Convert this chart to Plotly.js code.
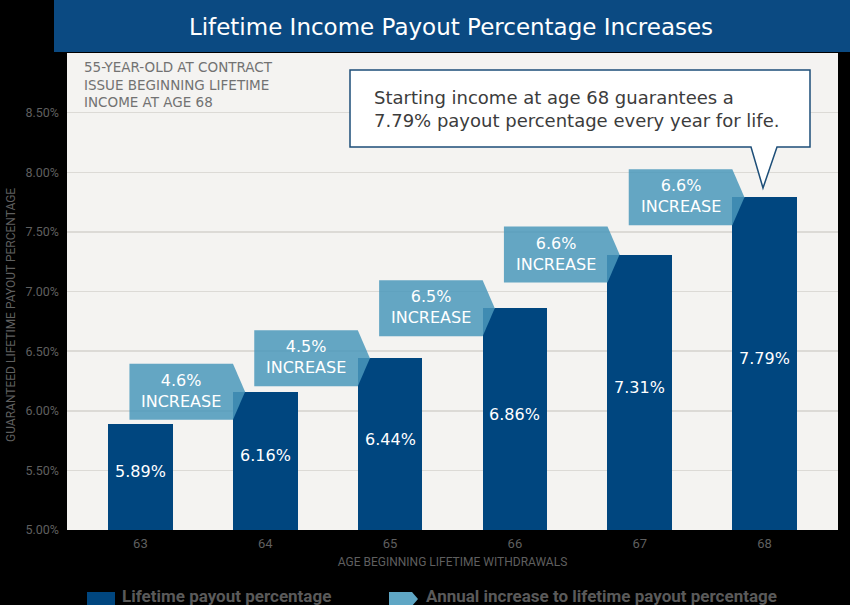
<!DOCTYPE html>
<html>
<head>
<meta charset="utf-8">
<script src="https://cdn.plot.ly/plotly-3.0.1.min.js"></script>
<style>
  html, body { margin: 0; padding: 0; background: #000; }
  #chart { width: 850px; height: 605px; }
</style>
</head>
<body>
<div id="chart"></div>
<script>
  // values
  const ages = ["63", "64", "65", "66", "67", "68"];
  const payout = [5.89, 6.16, 6.44, 6.86, 7.31, 7.79];
  const increaseLabels = ["4.6%", "4.5%", "6.5%", "6.6%", "6.6%"];
  const yTicks = [5, 5.5, 6, 6.5, 7, 7.5, 8, 8.5];
  const yTickText = yTicks.map((v) => v.toFixed(2) + "%");
  const noteLines = ["55-YEAR-OLD AT CONTRACT", "ISSUE BEGINNING LIFETIME", "INCOME AT AGE 68"];
  const calloutText = "Starting income at age 68 guarantees a<br>7.79% payout percentage every year for life.";
  const legendLabels = ["Lifetime payout percentage", "Annual increase to lifetime payout percentage"];

  const W = 850, H = 605;
  const margin = { l: 67, r: 12, t: 53, b: 75 };
  const pw = W - margin.l - margin.r;
  const ph = H - margin.t - margin.b;
  // pixel -> paper helpers for the decorations
  const px = (x) => (x - margin.l) / pw;
  const py = (y) => (H - margin.b - y) / ph;

  const yMin = 5, yMax = 9;
  const barWidth = 0.517;
  const darkBlue = "#00467f";
  const lightBlue = "#4a98bb";
  const axisGrey = "#5f5f5f";

  const bars = {
    type: "bar",
    x: ages,
    y: payout,
    width: barWidth,
    marker: { color: darkBlue, line: { width: 0 } },
    hoverinfo: "skip",
    showlegend: false,
  };

  const shapes = [];
  const annotations = [];

  // header band
  shapes.push({
    type: "rect", xref: "paper", yref: "paper", layer: "below",
    x0: px(54), x1: px(850), y0: py(52), y1: py(0),
    fillcolor: "#0b4a82", line: { width: 0 },
  });

  // value labels inside the bars
  payout.forEach((v, i) => {
    annotations.push({
      x: i, y: (yMin + v) / 2, xref: "x", yref: "y", yshift: 5,
      text: v.toFixed(2) + "%", showarrow: false,
      font: { family: "DejaVu Sans", size: 16, color: "#ffffff" },
    });
  });

  // increase arrows pointing at the top of the next bar
  increaseLabels.forEach((lab, i) => {
    const v = payout[i + 1];
    const left = i - 0.088;
    const right = i + 1 - barWidth / 2;
    const tip = right + 0.097;
    const h = 0.235;
    shapes.push({
      type: "path", xref: "x", yref: "y", layer: "above",
      path: `M ${left},${v + h} L ${right},${v + h} L ${tip},${v} L ${right},${v - h} L ${left},${v - h} Z`,
      fillcolor: lightBlue, opacity: 0.85, line: { width: 0 },
    });
    annotations.push({
      x: (left + right) / 2, y: v, xref: "x", yref: "y", yshift: 1,
      text: lab + "<br>INCREASE", showarrow: false,
      font: { family: "DejaVu Sans", size: 16, color: "#ffffff" },
    });
  });

  // callout box
  shapes.push({
    type: "path", xref: "paper", yref: "paper", layer: "above",
    path: `M ${px(350)},${py(70)} L ${px(810)},${py(70)} L ${px(810)},${py(147)} L ${px(777)},${py(147)} ` +
          `L ${px(763)},${py(188)} L ${px(751)},${py(147)} L ${px(350)},${py(147)} Z`,
    fillcolor: "#ffffff", line: { color: "#1d4e78", width: 1.5 },
  });
  annotations.push({
    xref: "paper", yref: "paper", x: px(372), y: py(109), xanchor: "left", yanchor: "middle",
    align: "left", text: calloutText, showarrow: false,
    font: { family: "DejaVu Sans", size: 18, color: "#3c3c3c" },
  });

  // top-left note
  annotations.push({
    xref: "paper", yref: "paper", x: px(82), y: py(84), xanchor: "left", yanchor: "middle",
    align: "left", text: noteLines.join("<br>"), showarrow: false,
    font: { family: "DejaVu Sans", size: 13.5, color: "#727272" },
  });

  // y axis title, placed by hand to sit where the reference has it
  annotations.push({
    xref: "paper", yref: "paper", x: px(11), y: py(315), xanchor: "center", yanchor: "middle",
    textangle: -90,
    text: "GUARANTEED LIFETIME PAYOUT PERCENTAGE", showarrow: false,
    font: { family: "Roboto", size: 12, color: axisGrey },
  });

  // custom legend along the bottom edge
  shapes.push({
    type: "rect", xref: "paper", yref: "paper",
    x0: px(87), x1: px(115), y0: py(606), y1: py(592),
    fillcolor: darkBlue, line: { width: 0 },
  });
  shapes.push({
    type: "path", xref: "paper", yref: "paper",
    path: `M ${px(389)},${py(592)} L ${px(412)},${py(592)} L ${px(418)},${py(599)} L ${px(412)},${py(606)} L ${px(389)},${py(606)} Z`,
    fillcolor: "#5fa6c4", line: { width: 0 },
  });
  [[120, legendLabels[0]], [424, legendLabels[1]]].forEach(([x, t]) => {
    annotations.push({
      xref: "paper", yref: "paper", x: px(x), y: py(596), xanchor: "left", yanchor: "middle",
      text: "<b>" + t + "</b>", showarrow: false,
      font: { family: "Roboto", size: 17, color: "#5a5a5a" },
    });
  });

  const layout = {
    width: W,
    height: H,
    margin: margin,
    paper_bgcolor: "#000000",
    plot_bgcolor: "#f4f3f1",
    title: {
      text: "Lifetime Income Payout Percentage Increases",
      font: { family: "DejaVu Sans", size: 23, color: "#ffffff" },
      x: 451 / W, xanchor: "center", y: 1 - 27 / H, yanchor: "middle",
    },
    xaxis: {
      type: "category",
      range: [-0.588, 5.588],
      showgrid: false,
      zeroline: false,
      showline: false,
      ticks: "",
      ticklabelstandoff: 4,
      tickfont: { family: "Roboto", size: 13, color: axisGrey },
      title: {
        text: "AGE BEGINNING LIFETIME WITHDRAWALS",
        font: { family: "Roboto", size: 12, color: axisGrey },
        standoff: 7,
      },
      fixedrange: true,
    },
    yaxis: {
      range: [yMin, yMax],
      tickmode: "array",
      tickvals: yTicks,
      ticktext: yTickText,
      showgrid: true,
      gridcolor: "#dcdad6",
      gridwidth: 1.5,
      zeroline: false,
      showline: false,
      ticks: "",
      ticklabelstandoff: 7,
      tickfont: { family: "Roboto", size: 12.5, color: axisGrey },
      fixedrange: true,
    },
    bargap: 0,
    shapes: shapes,
    annotations: annotations,
    showlegend: false,
  };

  Plotly.newPlot("chart", [bars], layout, { displayModeBar: false, staticPlot: true });
</script>
</body>
</html>
